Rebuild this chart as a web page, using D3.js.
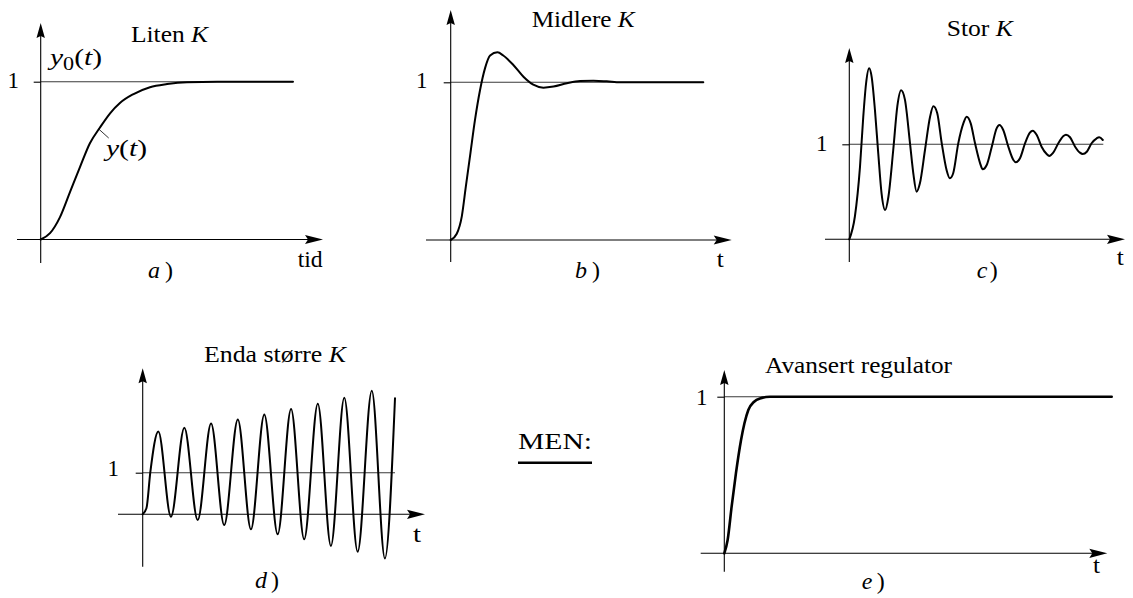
<!DOCTYPE html>
<html>
<head>
<meta charset="utf-8">
<script src="https://cdn.jsdelivr.net/npm/d3@7"></script>
<style>
  body { margin: 0; background: #fff; }
  svg { display: block; font-family: "Liberation Serif", "Times New Roman", serif; }
  text { font-family: "Liberation Serif", "Times New Roman", serif; }
</style>
</head>
<body>
<svg id="chart" width="1133" height="598"></svg>
<script>
// Closed-loop step responses, y relative to the reference y0(t) = 1,
// time in arbitrary units (0 .. 10 across each plot).

// a) small gain
const litenT = [0, 0.37, 0.76, 1.16, 1.56, 1.95, 2.35, 2.75, 3.14, 3.66, 4.33, 5.01, 5.80, 7.0, 10];
const litenY = [0, 0.04, 0.14, 0.30, 0.46, 0.61, 0.71, 0.80, 0.865, 0.92, 0.965, 0.985, 0.997, 1.0, 1.0];

// b) medium gain
const midlereT = [0, 0.24, 0.44, 0.60, 0.78, 0.96, 1.16, 1.36, 1.56, 1.85, 2.08, 2.48, 2.88, 3.27, 3.67, 4.07, 4.60, 5.12, 5.65, 6.18, 6.71, 10];
const midlereY = [0, 0.04, 0.15, 0.34, 0.55, 0.76, 0.95, 1.09, 1.17, 1.19, 1.17, 1.11, 1.035, 0.985, 0.966, 0.973, 0.994, 1.008, 1.01, 1.006, 1.0, 1.0];

// c) large gain
const storT = [0, 0.22, 0.42, 0.55, 0.66, 0.78, 0.88, 1.01, 1.14, 1.27, 1.41, 1.54, 1.73, 1.89, 2.04, 2.19, 2.39, 2.52, 2.65, 2.78, 2.98, 3.18, 3.31, 3.46, 3.64, 3.83, 3.96, 4.09, 4.29, 4.49, 4.62, 4.78, 4.95, 5.15, 5.25, 5.41, 5.61, 5.80, 5.91, 6.06, 6.26, 6.46, 6.56, 6.72, 6.92, 7.11, 7.22, 7.38, 7.57, 7.77, 7.87, 8.03, 8.23, 8.43, 8.53, 8.69, 8.89, 9.08, 9.19, 9.35, 9.54, 9.74, 9.84, 9.98];
const storY = [0, 0.24, 0.76, 1.29, 1.64, 1.80, 1.71, 1.36, 0.905, 0.484, 0.308, 0.448, 0.94, 1.40, 1.57, 1.47, 1.01, 0.695, 0.501, 0.589, 0.94, 1.29, 1.40, 1.33, 1.01, 0.729, 0.642, 0.695, 1.01, 1.22, 1.29, 1.22, 1.01, 0.80, 0.737, 0.782, 0.975, 1.168, 1.203, 1.151, 0.975, 0.835, 0.811, 0.853, 1.011, 1.122, 1.143, 1.098, 0.975, 0.898, 0.877, 0.912, 1.011, 1.087, 1.101, 1.074, 0.975, 0.912, 0.898, 0.922, 1.011, 1.063, 1.074, 1.045];

// d) even larger gain (unstable, growing oscillation)
const endaT = [0, 0.15, 0.30, 0.62, 1.12, 1.65, 2.18, 2.71, 3.23, 3.77, 4.29, 4.82, 5.35, 5.88, 6.40, 6.94, 7.46, 7.99, 8.52, 9.08, 9.60, 10.0];
const endaY = [0, 0.15, 1.0, 1.99, -0.06, 2.08, -0.14, 2.18, -0.26, 2.28, -0.36, 2.40, -0.48, 2.53, -0.60, 2.66, -0.76, 2.80, -0.90, 2.97, -1.06, 2.79];

// e) advanced controller
const avansertT = [0, 0.086, 0.19, 0.30, 0.43, 0.52, 0.62, 0.77, 0.92, 1.18, 10];
const avansertY = [0, 0.085, 0.30, 0.51, 0.72, 0.83, 0.915, 0.968, 0.989, 1.0, 1.0];

// Text
const titleWords = ["Liten", "Midlere", "Stor", "Enda større", "Avansert regulator"];
const titleHasK = [true, true, true, true, false];
const panelLetters = ["a", "b", "c", "d", "e"];
const timeLabels = ["tid", "t", "t", "t", "t"];
const levelTicks = [1];

const series = [
  [litenT, litenY],
  [midlereT, midlereY],
  [storT, storY],
  [endaT, endaY],
  [avansertT, avansertY]
];

// Layout of each small plot (pixels)
const layout = [
  { x0: 40.7, xEnd: 293, y0: 239.5, y1: 81.7, axL: 17, axR: 323, axT: 23, axB: 263,
    title: [131, 41.7, 77], one: [13.3, 87], tl: [297.7, 266.7, 25], letter: [148, 278, 25], sw: 2 },
  { x0: 450.7, xEnd: 703.3, y0: 240, y1: 82.3, axL: 426, axR: 731.7, axT: 10, axB: 262,
    title: [531.7, 26.7, 103], one: [421.7, 87.3], tl: [716.7, 266.7, 7], letter: [575, 278, 25], sw: 2 },
  { x0: 849.3, xEnd: 1103.3, y0: 239.3, y1: 144.3, axL: 825, axR: 1125, axT: 48, axB: 262,
    title: [946.7, 36, 66], one: [821.7, 150], tl: [1116.7, 265, 7], letter: [976.7, 278, 21], sw: 2 },
  { x0: 142.7, xEnd: 395, y0: 514.3, y1: 472.7, axL: 118, axR: 425, axT: 368.3, axB: 566.7,
    title: [204, 361.7, 142], one: [113.3, 475.3], tl: [413, 541.7, 8], letter: [255, 588, 24], sw: 2 },
  { x0: 724.3, xEnd: 1111.7, y0: 553.3, y1: 396.7, axL: 700.7, axR: 1107.3, axT: 370, axB: 571.7,
    title: [765, 373.3, 187], one: [701.7, 404.3], tl: [1093, 573.3, 7], letter: [861.7, 589, 23], sw: 2.6 }
];

const FS = 24;
const svg = d3.select("#chart");
const tEnd = 10;

layout.forEach((p, i) => {
  const g = svg.append("g");
  const x = d3.scaleLinear().domain([0, tEnd]).range([p.x0, p.xEnd]);
  const y = d3.scaleLinear().domain([0, 1]).range([p.y0, p.y1]);

  // reference level y0(t) = 1
  g.append("line")
    .attr("x1", x(0)).attr("x2", x(tEnd))
    .attr("y1", y(levelTicks[0])).attr("y2", y(levelTicks[0]))
    .attr("stroke", "#3a3a3a").attr("stroke-width", 1.1);

  // tick "1" on the vertical axis
  const yAxis = d3.axisLeft(y).tickValues(levelTicks).tickSize(7).tickPadding(0)
    .tickFormat(d3.format("d"));
  const ax = g.append("g").attr("transform", `translate(${p.x0},0)`).call(yAxis);
  ax.attr("font-family", null).attr("font-size", null);
  ax.select(".domain").remove();
  ax.selectAll(".tick line").attr("stroke", "#000").attr("stroke-width", 1.1);
  ax.selectAll(".tick text")
    .attr("x", p.one[0] - p.x0).attr("y", p.one[1] - y(1)).attr("dy", null)
    .attr("text-anchor", "middle")
    .attr("font-size", 23).attr("fill", "#000");

  // axes with arrowheads
  const axG = g.append("g").attr("stroke", "#000").attr("stroke-width", 1.1);
  axG.append("line").attr("x1", p.axL).attr("x2", p.axR - 14).attr("y1", p.y0).attr("y2", p.y0);
  axG.append("line").attr("x1", p.x0).attr("x2", p.x0).attr("y1", p.axB).attr("y2", p.axT + 12);
  g.append("path")
    .attr("d", `M${p.axR},${p.y0} L${p.axR - 18},${p.y0 - 4.6} L${p.axR - 15},${p.y0} L${p.axR - 18},${p.y0 + 4.6} Z`)
    .attr("fill", "#000");
  g.append("path")
    .attr("d", `M${p.x0},${p.axT} L${p.x0 - 4.2},${p.axT + 15} L${p.x0},${p.axT + 13} L${p.x0 + 4.2},${p.axT + 15} Z`)
    .attr("fill", "#000");

  // response curve
  const [ts, vs] = series[i];
  const line = d3.line().x(d => x(d[0])).y(d => y(d[1])).curve(d3.curveMonotoneX);
  g.append("path")
    .attr("d", line(d3.zip(ts, vs)))
    .attr("fill", "none").attr("stroke", "#000")
    .attr("stroke-width", p.sw).attr("stroke-linejoin", "round").attr("stroke-linecap", "round");

  // title
  const title = g.append("text")
    .attr("x", p.title[0]).attr("y", p.title[1])
    .attr("font-size", FS)
    .attr("textLength", p.title[2]).attr("lengthAdjust", "spacingAndGlyphs");
  title.append("tspan").text(titleWords[i] + (titleHasK[i] ? " " : ""));
  if (titleHasK[i]) title.append("tspan").attr("font-style", "italic").text("K");

  // time axis label
  g.append("text").attr("x", p.tl[0]).attr("y", p.tl[1]).attr("font-size", FS)
    .attr("textLength", p.tl[2]).attr("lengthAdjust", "spacingAndGlyphs")
    .text(timeLabels[i]);

  // panel letter
  const lt = g.append("text").attr("x", p.letter[0]).attr("y", p.letter[1]).attr("font-size", FS)
    .attr("textLength", p.letter[2]).attr("lengthAdjust", "spacing");
  lt.append("tspan").attr("font-style", "italic").text(panelLetters[i]);
  lt.append("tspan").attr("dx", 4).text(")");

  // curve labels in the first plot
  if (i === 0) {
    const y0lab = g.append("text").attr("x", 50).attr("y", 65).attr("font-size", FS)
      .attr("textLength", 52).attr("lengthAdjust", "spacingAndGlyphs");
    y0lab.append("tspan").attr("font-style", "italic").text("y");
    y0lab.append("tspan").attr("font-size", 18).attr("dy", 5).text("0");
    y0lab.append("tspan").attr("dy", -5).text("(");
    y0lab.append("tspan").attr("font-style", "italic").text("t");
    y0lab.append("tspan").text(")");

    const ylab = g.append("text").attr("x", 106).attr("y", 156).attr("font-size", FS)
      .attr("textLength", 41).attr("lengthAdjust", "spacingAndGlyphs");
    ylab.append("tspan").attr("font-style", "italic").text("y");
    ylab.append("tspan").text("(");
    ylab.append("tspan").attr("font-style", "italic").text("t");
    ylab.append("tspan").text(")");

    g.append("line")
      .attr("x1", x(2.3)).attr("y1", y(0.70))
      .attr("x2", x(2.3) + 10).attr("y2", y(0.70) + 9)
      .attr("stroke", "#000").attr("stroke-width", 0.8);
  }
});

// "MEN:" between the two lower plots
svg.append("text").attr("x", 518).attr("y", 449).attr("font-size", FS)
  .attr("textLength", 74).attr("lengthAdjust", "spacingAndGlyphs").text("MEN:");
svg.append("line").attr("x1", 518).attr("x2", 592).attr("y1", 462.7).attr("y2", 462.7)
  .attr("stroke", "#000").attr("stroke-width", 2.4);
</script>
</body>
</html>
